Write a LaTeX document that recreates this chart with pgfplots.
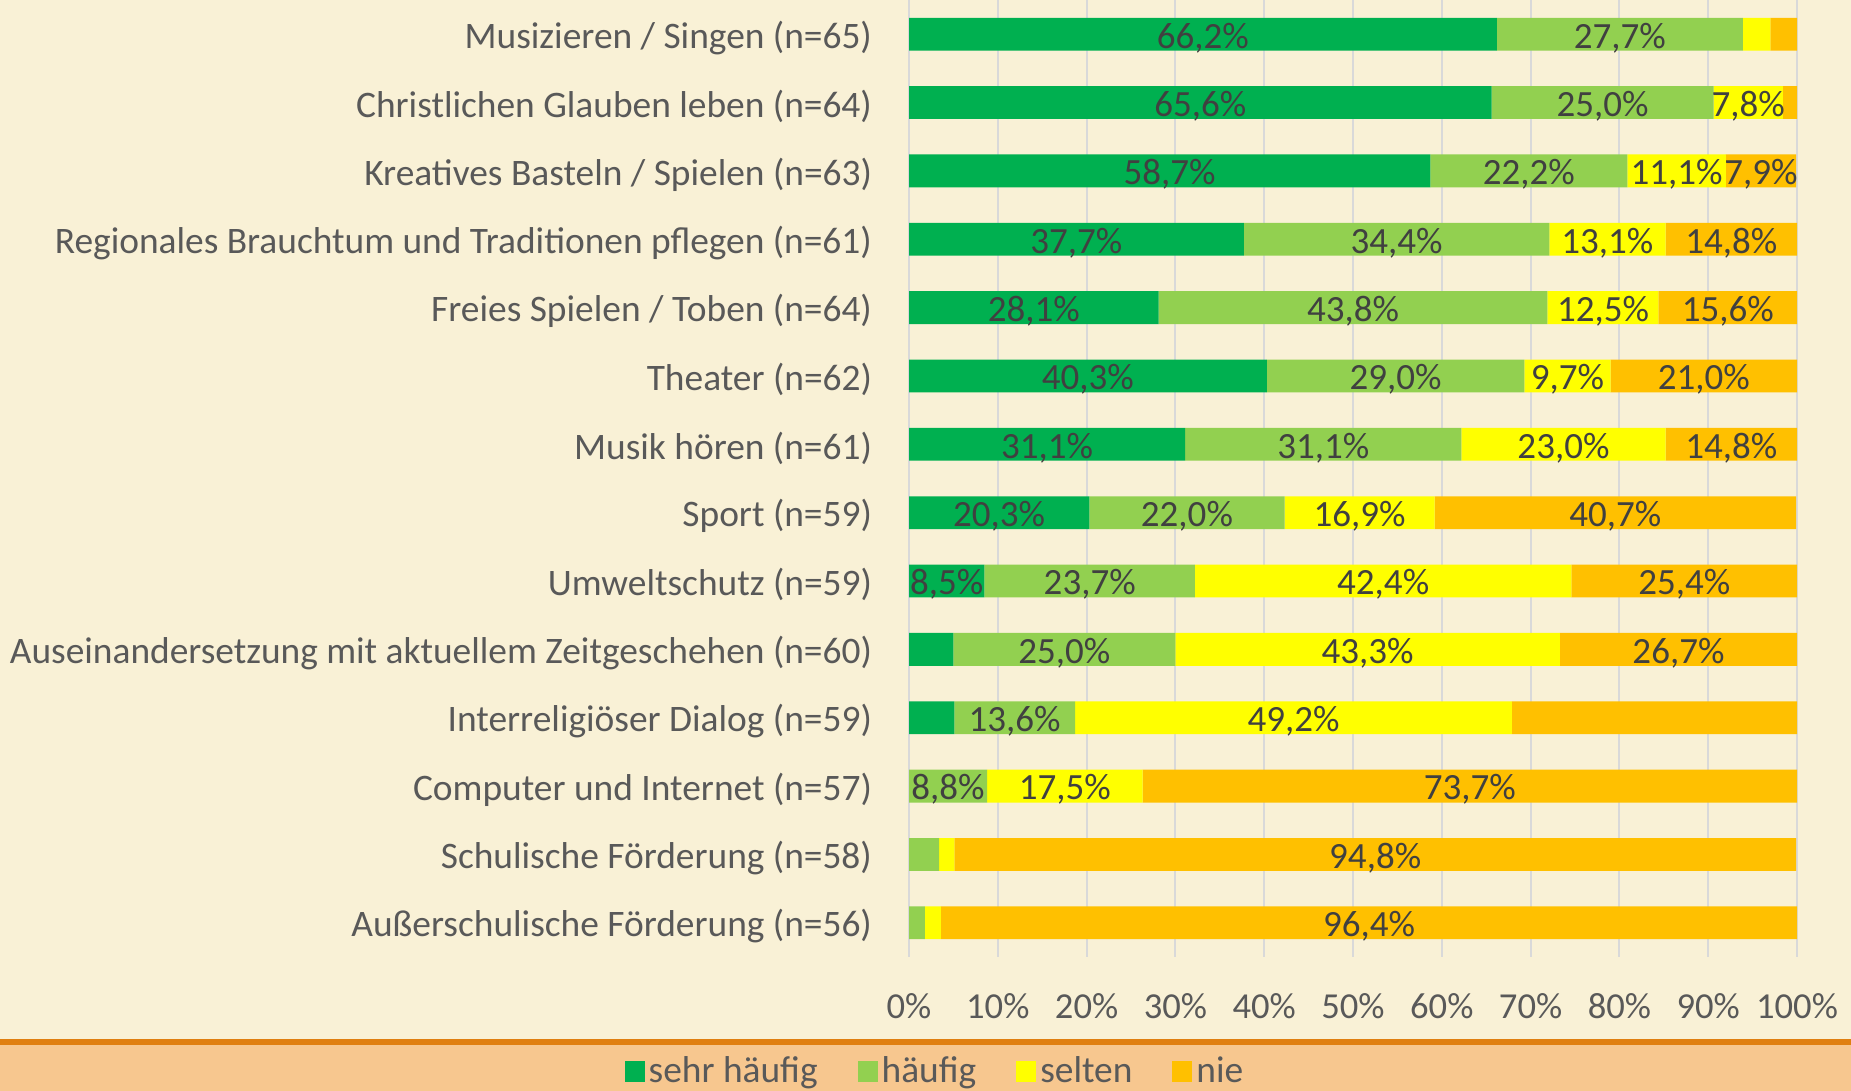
\documentclass[border=0pt]{standalone}
\usepackage{fontspec}
\setmainfont{Carlito}
\usepackage{pgfplots}
\pgfplotsset{compat=1.18}
\usepackage{pgfplotstable}
\definecolor{bgc}{RGB}{249,241,214}
\definecolor{band}{RGB}{247,199,143}
\definecolor{oline}{RGB}{224,127,16}
\definecolor{cS}{RGB}{0,176,80}
\definecolor{cH}{RGB}{146,208,80}
\definecolor{cSe}{RGB}{255,255,0}
\definecolor{cN}{RGB}{255,192,0}
\definecolor{txt}{RGB}{64,64,64}
\definecolor{txtb}{RGB}{89,89,89}
\definecolor{gridc}{RGB}{217,217,217}
\pgfplotstableread{
idx s h se ni
0 66.2 27.7 3.1 3.0
1 65.6 25.0 7.8 1.6
2 58.7 22.2 11.1 7.9
3 37.7 34.4 13.1 14.8
4 28.1 43.8 12.5 15.6
5 40.3 29.0 9.7 21.0
6 31.1 31.1 23.0 14.8
7 20.3 22.0 16.9 40.7
8 8.5 23.7 42.4 25.4
9 5.0 25.0 43.3 26.7
10 5.1 13.6 49.2 32.2
11 0 8.8 17.5 73.7
12 0 3.4 1.7 94.8
13 0 1.8 1.8 96.4
}\datatable
\begin{document}
\begin{tikzpicture}
\fill[bgc] (0,0) rectangle (925.5pt,545.5pt);
\useasboundingbox (0,0) rectangle (925.5pt,545.5pt);
\fill[band] (0,0) rectangle (925.5pt,23pt);
\fill[oline] (0,23pt) rectangle (925.5pt,26pt);
\begin{axis}[
  at={(454.5pt,67pt)}, anchor=south west,
  scale only axis, width=444pt, height=478.5pt,
  xbar stacked, bar width=0.48,
  xmin=0, xmax=100, ymin=-0.5, ymax=13.5,
  y dir=reverse,
  axis line style={draw=none},
  major tick length=0pt,
  xmajorgrids, grid style={gridc, line width=1pt},
  xtick={0,10,...,100},
  xticklabels={0\%,10\%,20\%,30\%,40\%,50\%,60\%,70\%,80\%,90\%,100\%},
  ytick={0,...,13},
  yticklabels={
    Musizieren / Singen (n=65),
    Christlichen Glauben leben (n=64),
    Kreatives Basteln / Spielen (n=63),
    Regionales Brauchtum und Traditionen pflegen (n=61),
    Freies Spielen / Toben (n=64),
    Theater (n=62),
    Musik hören (n=61),
    Sport (n=59),
    Umweltschutz (n=59),
    Auseinandersetzung mit aktuellem Zeitgeschehen (n=60),
    Interreligiöser Dialog (n=59),
    Computer und Internet (n=57),
    Schulische Förderung (n=58),
    Außerschulische Förderung (n=56)},
  xticklabel style={font=\fontsize{18.3}{21}\selectfont, text=txtb, yshift=-14.5pt},
  yticklabel style={font=\fontsize{18.7}{21}\selectfont, text=txtb, xshift=-15pt, yshift=-1.8pt},
  /pgf/number format/assume math mode=true,
  visualization depends on={rawx \as \rawx},
  nodes near coords={\ifdim\rawx pt<6pt \else\pgfmathprintnumber[fixed,fixed zerofill,precision=1,use comma]{\rawx}\%\fi},
  nodes near coords style={anchor=center, yshift=-1.8pt, font=\fontsize{18.5}{21}\selectfont, text=txt, inner sep=0pt},
  legend columns=4,
  legend style={at={(0.0304,-0.1191)}, anchor=center, draw=none, fill=none,
    font=\fontsize{18.7}{21}\selectfont, text=txtb,
    /tikz/every even column/.append style={column sep=18pt}},
  legend image code/.code={\fill[#1] (0pt,-5.5pt) rectangle (10pt,5pt);},
]
\addplot[fill=cS, draw=none] table[x=s, y=idx] {\datatable};
\addplot[fill=cH, draw=none] table[x=h, y=idx] {\datatable};
\addplot[fill=cSe, draw=none] table[x=se, y=idx] {\datatable};
\addplot[fill=cN, draw=none] table[x=ni, y=idx] {\datatable};
\legend{sehr häufig, häufig, selten, nie}
\end{axis}
\end{tikzpicture}
\end{document}
